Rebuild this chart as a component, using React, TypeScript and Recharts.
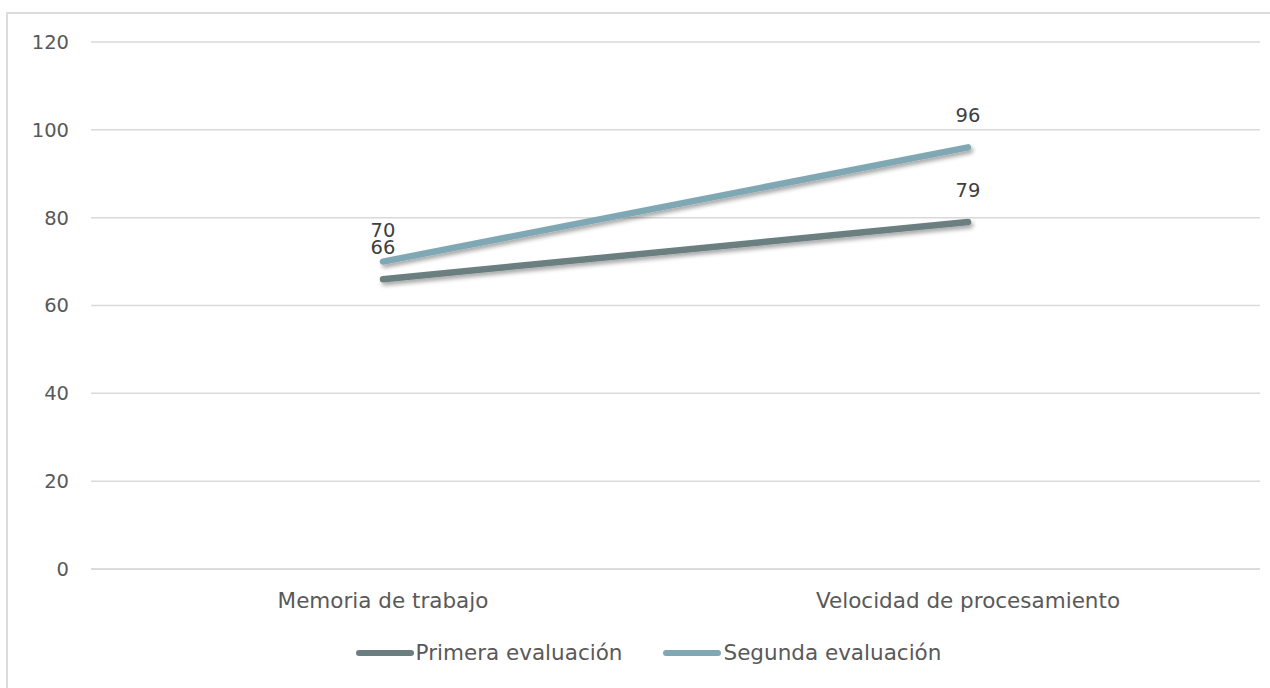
import React from "react";
import { LineChart, Line, XAxis, YAxis, CartesianGrid, Legend, LabelList } from "recharts";

// Scores for both evaluations per cognitive area
const categories = ["Memoria de trabajo", "Velocidad de procesamiento"];
const primeraEvaluacion = [66, 79];
const segundaEvaluacion = [70, 96];
const yTicks = [0, 20, 40, 60, 80, 100, 120];

const seriesNames = ["Primera evaluación", "Segunda evaluación"];
const seriesColors = ["#6c7f80", "#7fa8b4"];

const data = categories.map((name, i) => ({
  name,
  primera: primeraEvaluacion[i],
  segunda: segundaEvaluacion[i],
}));

const FONT = "'DejaVu Sans', sans-serif";
const TEXT = "#595959";

const LegendContent = () => (
  <div
    style={{
      display: "flex",
      alignItems: "center",
      justifyContent: "center",
      paddingLeft: 27,
      fontFamily: FONT,
      fontSize: 21.5,
      color: TEXT,
    }}
  >
    {seriesNames.map((n, i) => (
      <div key={n} style={{ display: "flex", alignItems: "center", marginRight: i === 0 ? 41 : 0 }}>
        <span
          style={{
            display: "inline-block",
            width: 58,
            height: 6,
            borderRadius: 3,
            background: seriesColors[i],
            marginRight: 2,
          }}
        />
        <span>{n}</span>
      </div>
    ))}
  </div>
);

export default function App() {
  return (
    <div
      style={{
        position: "absolute",
        left: 0,
        top: 0,
        width: 1270,
        height: 688,
        overflow: "hidden",
        background: "#fff",
      }}
    >
      <div
        style={{
          position: "absolute",
          left: 6,
          top: 12,
          width: 1300,
          height: 720,
          border: "2px solid #dcdcdc",
        }}
      />
      <div style={{ position: "absolute", left: 0, top: 0 }}>
        <LineChart
          width={1270}
          height={688}
          data={data}
          margin={{ top: 42, right: 10, left: 0, bottom: 59 }}
        >
          <defs>
            <filter
              id="lineShadow"
              filterUnits="userSpaceOnUse"
              x="0"
              y="0"
              width="1270"
              height="688"
            >
              <feDropShadow dx="2" dy="3" stdDeviation="2" floodColor="#000" floodOpacity="0.35" />
            </filter>
          </defs>
          <CartesianGrid vertical={false} stroke="#d9d9d9" strokeWidth={1.5} />
          <XAxis
            dataKey="name"
            height={60}
            padding={{ left: 292, right: 292 }}
            axisLine={{ stroke: "#d9d9d9", strokeWidth: 1.5 }}
            tickLine={false}
            tickSize={0}
            tickMargin={24}
            tick={{ fill: TEXT, fontSize: 21.5, fontFamily: FONT }}
          />
          <YAxis
            width={91}
            domain={[0, 120]}
            ticks={yTicks}
            axisLine={false}
            tickLine={false}
            tickSize={0}
            tickMargin={22}
            tick={{ fill: TEXT, fontSize: 19.5, fontFamily: FONT }}
          />
          <Legend
            verticalAlign="middle"
            align="center"
            content={<LegendContent />}
            wrapperStyle={{ top: 640, left: 0, width: 1270 }}
          />
          <Line
            dataKey="primera"
            name={seriesNames[0]}
            stroke={seriesColors[0]}
            strokeWidth={6.5}
            strokeLinecap="round"
            dot={false}
            activeDot={false}
            filter="url(#lineShadow)"
            isAnimationActive={false}
          >
            <LabelList
              dataKey="primera"
              position="top"
              offset={25}
              fill="#404040"
              fontSize={19.5}
              fontFamily={FONT}
            />
          </Line>
          <Line
            dataKey="segunda"
            name={seriesNames[1]}
            stroke={seriesColors[1]}
            strokeWidth={6.5}
            strokeLinecap="round"
            dot={false}
            activeDot={false}
            filter="url(#lineShadow)"
            isAnimationActive={false}
          >
            <LabelList
              dataKey="segunda"
              position="top"
              offset={25}
              fill="#404040"
              fontSize={19.5}
              fontFamily={FONT}
            />
          </Line>
        </LineChart>
      </div>
    </div>
  );
}
